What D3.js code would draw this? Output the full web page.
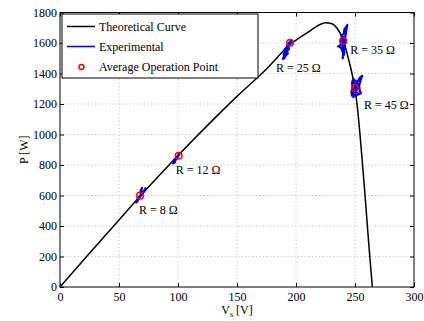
<!DOCTYPE html>
<html>
<head>
<meta charset="utf-8">
<script src="https://cdn.jsdelivr.net/npm/d3@7"></script>
<style>
  body { margin: 0; background: #fff; }
  svg text { font-family: "Liberation Serif", "Times New Roman", Times, serif; }
</style>
</head>
<body>
<svg id="chart" width="424" height="321"></svg>
<script>
// ── Data ────────────────────────────────────────────────────────────────
const xTicks = [0, 50, 100, 150, 200, 250, 300];
const yTicks = [0, 200, 400, 600, 800, 1000, 1200, 1400, 1600, 1800];

// theoretical P-V curve
const theoV = [0, 25, 50, 75, 100, 125, 150, 175, 195, 210, 220, 225, 230, 235, 240, 244, 248, 250, 252, 254, 256, 258, 260, 262, 264.7];
const theoP = [0, 222, 440, 655, 862, 1060, 1250, 1430, 1590, 1670, 1720, 1733, 1728, 1695, 1620, 1510, 1380, 1300, 1180, 1020, 840, 650, 450, 250, 0];

// average operation points
const opLabels = ["R = 8 Ω", "R = 12 Ω", "R = 25 Ω", "R = 35 Ω", "R = 45 Ω"];
const opV = [67.8, 100.6, 195, 240, 250];
const opP = [599, 861, 1602, 1615, 1307];

// experimental traces around each point [V, P]
const exp8 = [[64,550],[66,572],[65,565],[67,590],[66,582],[68,600],[69,612],[68,620],[69.5,650],[69,630],[70,612],[71,625],[72.5,648],[70.5,618],[68.5,598],[67,585],[65.5,560],[64.5,555],[65.5,575],[66.5,568]];
const exp12 = [[95.5,805],[97,822],[96.5,815],[98,835],[97.5,828],[99,845],[98.5,850],[100,860],[101.5,878],[100.5,862],[99.5,848],[98.5,838],[97,826],[96,812],[97.5,818],[96.5,830],[98,842]];
const exp25 = [[188.5,1490],[190,1515],[189.5,1530],[191,1545],[190.5,1560],[192,1570],[193,1590],[194.5,1605],[196,1618],[195.5,1600],[193.5,1580],[194,1560],[192.5,1550],[193,1530],[191.5,1520],[190,1500],[191,1535],[192.5,1562],[191.5,1575]];
const exp35 = [[239.5,1495],[240,1530],[239,1555],[238,1570],[235.5,1578],[238.5,1590],[237.5,1610],[239,1630],[238.5,1650],[240.5,1660],[241,1690],[243.5,1718],[242.5,1680],[242,1650],[241.5,1630],[242,1600],[240.5,1580],[241,1550],[240.5,1520],[239.5,1570],[240.5,1640],[239.5,1600]];
const exp45 = [[247.5,1250],[247,1280],[248,1310],[247.5,1340],[248.5,1365],[250,1352],[252,1345],[254,1370],[256,1385],[254.5,1350],[253.5,1320],[254,1290],[255,1270],[252.5,1262],[250,1255],[248.5,1245],[249,1290],[251,1320],[252,1300],[249,1335],[252.5,1330],[250.5,1280],[253,1275]];

// ── Layout ──────────────────────────────────────────────────────────────
const L = 60, R = 414, T = 12.5, B = 287;
const FONT = "'Liberation Serif', 'Times New Roman', Times, serif";
const svg = d3.select("#chart");

const x = d3.scaleLinear().domain([0, 300]).range([L, R]);
const y = d3.scaleLinear().domain([0, 1800]).range([B, T]);

// grid
const grid = svg.append("g")
  .attr("stroke", "#b0b0b0").attr("stroke-width", 0.8).attr("stroke-dasharray", "1,2.5");
grid.selectAll("line.gx").data(xTicks.slice(1, -1)).enter().append("line")
  .attr("x1", d => x(d)).attr("x2", d => x(d)).attr("y1", T).attr("y2", B);
grid.selectAll("line.gy").data(yTicks.slice(1, -1)).enter().append("line")
  .attr("x1", L).attr("x2", R).attr("y1", d => y(d)).attr("y2", d => y(d));

// axes (inward ticks, MATLAB style)
function styleAxis(g) {
  g.attr("font-family", FONT).attr("font-size", 12);
  g.select(".domain").remove();
  g.selectAll(".tick line").attr("stroke", "#000");
  g.selectAll(".tick text").attr("fill", "#000");
}
const fmt = d3.format("d");
svg.append("g").attr("transform", `translate(0,${B})`)
  .call(d3.axisBottom(x).tickValues(xTicks).tickFormat(fmt).tickSize(-4).tickSizeOuter(0).tickPadding(5.5))
  .call(styleAxis);
svg.append("g").attr("transform", `translate(${L},0)`)
  .call(d3.axisLeft(y).tickValues(yTicks).tickFormat(fmt).tickSize(-4).tickSizeOuter(0).tickPadding(3))
  .call(styleAxis);
svg.append("g").attr("transform", `translate(0,${T})`)
  .call(d3.axisTop(x).tickValues(xTicks).tickSize(-4).tickSizeOuter(0).tickFormat(""))
  .call(styleAxis);
svg.append("g").attr("transform", `translate(${R},0)`)
  .call(d3.axisRight(y).tickValues(yTicks).tickSize(-4).tickSizeOuter(0).tickFormat(""))
  .call(styleAxis);

// theoretical curve
const theo = theoV.map((v, i) => [v, theoP[i]]);
const line = d3.line().x(d => x(d[0])).y(d => y(d[1]));
svg.append("path").datum(theo)
  .attr("d", line.curve(d3.curveMonotoneX))
  .attr("fill", "none").attr("stroke", "#000").attr("stroke-width", 1.5);

// experimental traces
const expLine = d3.line().x(d => x(d[0])).y(d => y(d[1]));
svg.append("g").selectAll("path").data([exp8, exp12, exp25, exp35, exp45]).enter().append("path")
  .attr("d", expLine)
  .attr("fill", "none").attr("stroke", "#0000ff").attr("stroke-width", 2.2)
  .attr("stroke-linejoin", "round");

// average operation points
svg.append("g").selectAll("circle").data(opV).enter().append("circle")
  .attr("cx", d => x(d)).attr("cy", (d, i) => y(opP[i])).attr("r", 3.3)
  .attr("fill", "none").attr("stroke", "#ff0000").attr("stroke-width", 1.5);

// point labels
const labelDx = [-1, -3, -14, 7, 9];
const labelDy = [18, 18, 29, 13, 21];
svg.append("g").selectAll("text").data(opLabels).enter().append("text")
  .attr("x", (d, i) => x(opV[i]) + labelDx[i])
  .attr("y", (d, i) => y(opP[i]) + labelDy[i])
  .attr("font-size", 12).attr("fill", "#000")
  .text(d => d);

// frame
svg.append("rect").attr("x", L).attr("y", T).attr("width", R - L).attr("height", B - T)
  .attr("fill", "none").attr("stroke", "#000").attr("stroke-width", 1);

// legend
const lg = svg.append("g");
lg.append("rect").attr("x", 62).attr("y", 14).attr("width", 196).attr("height", 64)
  .attr("fill", "#fff").attr("stroke", "#000").attr("stroke-width", 1);
const legendItems = ["Theoretical Curve", "Experimental", "Average Operation Point"];
const rowY = [26.5, 46.5, 67];
legendItems.forEach((t, i) => {
  if (i < 2) {
    lg.append("line").attr("x1", 67).attr("x2", 95).attr("y1", rowY[i]).attr("y2", rowY[i])
      .attr("stroke", i === 0 ? "#000" : "#0000ff").attr("stroke-width", 1.5);
  } else {
    lg.append("circle").attr("cx", 81.5).attr("cy", rowY[i]).attr("r", 2.5)
      .attr("fill", "none").attr("stroke", "#ff0000").attr("stroke-width", 1.5);
  }
  lg.append("text").attr("x", 99).attr("y", rowY[i] + 4).attr("font-size", 12).text(t);
});

// axis titles
svg.append("text").attr("transform", `translate(28,${(T + B) / 2}) rotate(-90)`)
  .attr("text-anchor", "middle").attr("font-size", 12).text("P [W]");
const xt = svg.append("text").attr("x", (L + R) / 2).attr("y", 314)
  .attr("text-anchor", "middle").attr("font-size", 12);
xt.append("tspan").text("V");
xt.append("tspan").attr("dy", 3).attr("font-size", 8).text("s");
xt.append("tspan").attr("dy", -3).text(" [V]");
</script>
</body>
</html>
